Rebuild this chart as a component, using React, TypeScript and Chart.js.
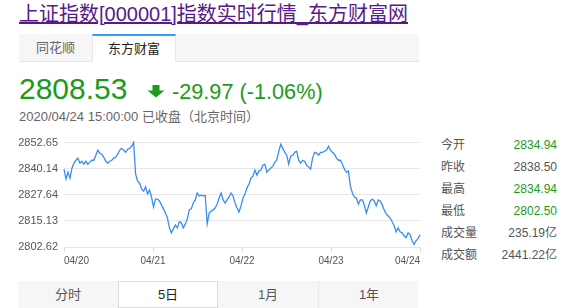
import React, { useEffect, useRef } from "react";
import { Chart, registerables } from "chart.js";

Chart.register(...registerables);

// ---- data ----
const dateLabels = ["04/20", "04/21", "04/22", "04/23", "04/24"];
const yTickValues = [2802.62, 2815.13, 2827.64, 2840.14, 2852.65];

const day0420 = [
  2839.9, 2835.2, 2838.5, 2835.6, 2840.4, 2842.8, 2844.2, 2845.2, 2842.8, 2843.7,
  2842.3, 2843.7, 2842.3, 2843.3, 2844.2, 2844.2, 2846.6, 2849.0, 2847.6, 2847.1,
  2845.6, 2843.7, 2842.8, 2843.7, 2844.2, 2845.2, 2845.6, 2847.1, 2849.0, 2849.9,
  2849.0, 2848.0, 2849.5, 2849.9, 2850.9, 2852.65,
];
const day0421 = [
  2837.6, 2834.2, 2833.3, 2830.4, 2829.4, 2831.4, 2828.0, 2829.9, 2826.6, 2821.8,
  2825.6, 2825.6, 2824.7, 2822.8, 2820.9, 2818.9, 2816.5, 2811.8, 2809.4, 2811.3,
  2813.2, 2811.8, 2814.7, 2814.2, 2811.8, 2813.7, 2816.1, 2820.4, 2820.9, 2823.7,
  2825.2, 2828.5, 2827.1, 2827.5, 2827.1, 2827.3,
];
const day0422 = [
  2813.7, 2818.9, 2819.9, 2820.4, 2821.3, 2823.2, 2826.1, 2828.5, 2825.2, 2823.7,
  2825.2, 2826.6, 2828.5, 2827.1, 2823.7, 2821.3, 2819.4, 2822.3, 2826.1, 2828.0,
  2830.9, 2832.8, 2835.6, 2836.6, 2839.5, 2837.1, 2839.0, 2839.5, 2841.8, 2842.3,
  2838.5, 2839.5, 2840.4, 2841.4, 2843.3, 2844.2,
];
const day0423 = [
  2848.5, 2851.8, 2849.9, 2848.0, 2846.6, 2842.3, 2846.1, 2846.6, 2848.0, 2848.5,
  2844.2, 2842.8, 2844.2, 2843.7, 2841.8, 2840.9, 2839.9, 2845.2, 2848.0, 2847.6,
  2846.6, 2848.0, 2848.0, 2848.5, 2849.0, 2850.9, 2849.0, 2848.0, 2847.1, 2845.2,
  2844.2, 2844.2, 2842.3, 2839.9, 2838.5, 2839.0,
];
const day0424 = [
  2831.8, 2828.5, 2826.6, 2826.1, 2823.2, 2825.2, 2825.2, 2822.8, 2818.9, 2821.8,
  2824.7, 2825.6, 2824.7, 2822.3, 2825.2, 2824.7, 2822.8, 2820.4, 2818.5, 2817.5,
  2816.5, 2814.7, 2812.8, 2809.9, 2811.8, 2809.9, 2809.4, 2808.0, 2807.1, 2809.4,
  2808.5, 2805.6, 2803.9, 2805.6, 2806.6, 2808.53,
];

const statLabels = ["今开", "昨收", "最高", "最低", "成交量", "成交额"];
const statValues = ["2834.94", "2838.50", "2834.94", "2802.50", "235.19亿", "2441.22亿"];
const statIsGreen = [true, false, true, true, false, false];

const periodButtons = ["分时", "5日", "1月", "1年"];

// ---- styles ----
const GREEN = "#1c9a1c";
const LINE = "#3a8cf7";
const FONT = '"Liberation Sans", Arial, "Noto Sans CJK SC", sans-serif';

function PriceChart() {
  const ref = useRef<HTMLCanvasElement | null>(null);
  useEffect(() => {
    const canvas = ref.current;
    if (!canvas) return;
    const series = [...day0420, ...day0421, ...day0422, ...day0423, ...day0424];
    const n = series.length;
    const points = series.map((v, i) => ({ x: i, y: v }));
    const xTickPos = dateLabels.map((_, i) => ((n - 1) * i) / (dateLabels.length - 1));
    const chart = new Chart(canvas, {
      type: "line",
      data: {
        datasets: [
          {
            data: points,
            borderColor: LINE,
            borderWidth: 1.3,
            pointRadius: 0,
            tension: 0,
            fill: false,
            clip: false as any,
          },
        ],
      },
      options: {
        animation: false,
        responsive: false,
        maintainAspectRatio: false,
        layout: { padding: { top: 12, right: 4, left: 0, bottom: 0 } },
        plugins: { legend: { display: false }, tooltip: { enabled: false } },
        scales: {
          x: {
            type: "linear",
            min: 0,
            max: n - 1,
            afterFit: (s: any) => {
              s.height = 28;
            },
            afterBuildTicks: (s: any) => {
              s.ticks = xTickPos.map((v) => ({ value: v }));
            },
            grid: { drawOnChartArea: false, drawTicks: true, tickLength: 5, color: "#d9d9d9" },
            border: { display: true, color: "#e3e3e3" },
            ticks: {
              align: "inner" as any,
              maxRotation: 0,
              autoSkip: false,
              padding: 3,
              color: "#555",
              font: { size: 10, family: FONT },
              callback: (_v: any, i: number) => dateLabels[i],
            },
          },
          y: {
            min: yTickValues[0],
            max: yTickValues[yTickValues.length - 1],
            afterFit: (s: any) => {
              s.width = 64;
            },
            afterBuildTicks: (s: any) => {
              s.ticks = yTickValues.map((v) => ({ value: v }));
            },
            grid: { color: "#e6e6e6", drawTicks: false },
            border: { display: false },
            ticks: {
              padding: 6,
              color: "#555",
              font: { size: 11, family: FONT },
              callback: (v: any) => Number(v).toFixed(2),
            },
          },
        },
      },
    });
    return () => chart.destroy();
  }, []);
  return (
    <canvas
      ref={ref}
      width={424}
      height={145}
      style={{ position: "absolute", left: 0, top: 130, width: 424, height: 145 }}
    />
  );
}

export default function App() {
  return (
    <div
      style={{
        position: "fixed",
        left: 0,
        top: 0,
        width: 569,
        height: 308,
        background: "#fff",
        overflow: "hidden",
        fontFamily: FONT,
      }}
    >
      {/* title */}
      <div
        style={{
          position: "absolute",
          left: 19,
          top: 1,
          fontSize: 20,
          lineHeight: "26px",
          color: "#551a8b",
          textDecoration: "underline",
          whiteSpace: "nowrap",
        }}
      >
        上证指数[000001]指数实时行情_东方财富网
      </div>

      {/* tabs */}
      <div
        style={{
          position: "absolute",
          left: 19,
          top: 34,
          width: 400,
          height: 27,
          background: "#f6f6f6",
          borderBottom: "1px solid #e6e6e6",
        }}
      />
      <div
        style={{
          position: "absolute",
          left: 19,
          top: 34,
          width: 73,
          height: 28,
          lineHeight: "28px",
          textAlign: "center",
          fontSize: 13,
          color: "#666",
        }}
      >
        同花顺
      </div>
      <div
        style={{
          position: "absolute",
          left: 92,
          top: 34,
          width: 82,
          height: 26,
          lineHeight: "26px",
          textAlign: "center",
          fontSize: 13,
          color: "#222",
          background: "#fff",
          borderTop: "2px solid #3b9cf4",
          borderLeft: "1px solid #e6e6e6",
          borderRight: "1px solid #e6e6e6",
        }}
      >
        东方财富
      </div>

      {/* price */}
      <div
        style={{
          position: "absolute",
          left: 19,
          top: 74,
          fontSize: 30,
          lineHeight: "30px",
          color: GREEN,
          whiteSpace: "nowrap",
        }}
      >
        2808.53
      </div>
      <svg
        width={18}
        height={13}
        viewBox="0 0 18 13"
        style={{ position: "absolute", left: 147, top: 85 }}
      >
        <path d="M5.5 0 H12.5 V5.5 H17.5 L9 12.5 L0.5 5.5 H5.5 Z" fill={GREEN} />
      </svg>
      <div
        style={{
          position: "absolute",
          left: 172,
          top: 81,
          fontSize: 21.7,
          lineHeight: "21px",
          color: GREEN,
          whiteSpace: "nowrap",
        }}
      >
        -29.97 (-1.06%)
      </div>
      <div
        style={{
          position: "absolute",
          left: 19,
          top: 110,
          fontSize: 13,
          lineHeight: "13px",
          color: "#666",
          whiteSpace: "nowrap",
        }}
      >
        2020/04/24 15:00:00 已收盘（北京时间）
      </div>

      <PriceChart />

      {/* stats */}
      {statLabels.map((lab, i) => (
        <React.Fragment key={lab}>
          <div
            style={{
              position: "absolute",
              left: 441,
              top: 134 + i * 22,
              height: 22,
              lineHeight: "22px",
              fontSize: 12,
              color: "#555",
              whiteSpace: "nowrap",
            }}
          >
            {lab}
          </div>
          <div
            style={{
              position: "absolute",
              right: 569 - 557,
              top: 134 + i * 22,
              height: 22,
              lineHeight: "22px",
              fontSize: 12,
              color: statIsGreen[i] ? GREEN : "#555",
              whiteSpace: "nowrap",
              textAlign: "right",
            }}
          >
            {statValues[i]}
          </div>
        </React.Fragment>
      ))}

      {/* period buttons */}
      <div
        style={{
          position: "absolute",
          left: 18,
          top: 281,
          width: 400,
          height: 27,
          background: "#f6f6f6",
        }}
      />
      {periodButtons.map((b, i) => (
        <div
          key={b}
          style={{
            position: "absolute",
            left: 18 + i * 100,
            top: 281,
            width: i === 1 ? 98 : 100,
            height: i === 1 ? 25 : 27,
            lineHeight: i === 1 ? "25px" : "27px",
            textAlign: "center",
            fontSize: 13,
            color: i === 1 ? "#222" : "#555",
            background: i === 1 ? "#fff" : "transparent",
            border: i === 1 ? "1px solid #dcdcdc" : "none",
            borderLeft: i === 3 ? "1px solid #e8e8e8" : i === 1 ? "1px solid #dcdcdc" : "none",
            boxSizing: "content-box",
          }}
        >
          {b}
        </div>
      ))}
    </div>
  );
}
